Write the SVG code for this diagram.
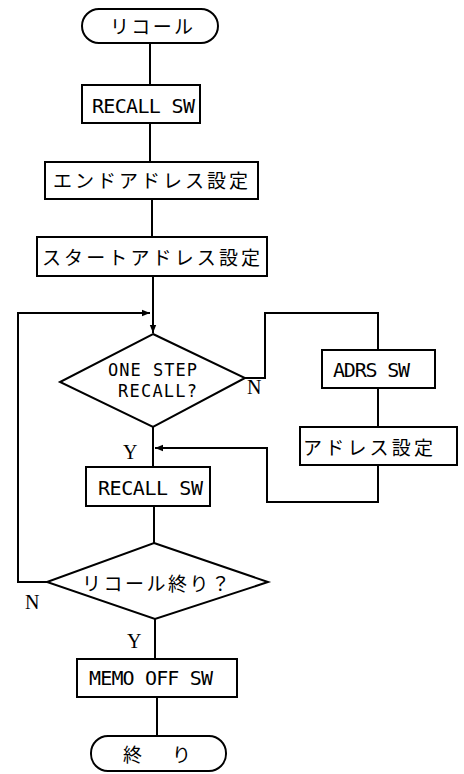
<svg xmlns="http://www.w3.org/2000/svg" width="464" height="774" viewBox="0 0 464 774">
<style>
.b{fill:#fff;stroke:#000;stroke-width:2}
.c{fill:none;stroke:#000;stroke-width:2}
.en{font-family:"DejaVu Sans Mono","Liberation Mono",monospace;font-size:20px;fill:#000}
.sm{font-size:17px}
.jp{font-family:"Noto Sans CJK JP","Noto Sans CJK SC",sans-serif;font-size:19px;fill:#000}
.lb{font-family:"Liberation Serif",serif;font-size:20px;fill:#000}
</style>
<defs>
<marker id="ah" viewBox="0 0 10 10" refX="10" refY="5" markerWidth="8" markerHeight="8" markerUnits="userSpaceOnUse" orient="auto">
<path d="M0,1 L10,5 L0,9 z" fill="#000"/>
</marker>
</defs>
<rect width="464" height="774" fill="#fff"/>
<g id="connectors">
<path class="c" d="M150,43 V85"/>
<path class="c" d="M150,123 V162"/>
<path class="c" d="M152,199 V237"/>
<path class="c" d="M153,276 V333" marker-end="url(#ah)"/>
<path class="c" d="M47,582 H18 V313 H150" marker-end="url(#ah)"/>
<path class="c" d="M245,378 H265 V313 H378 V350"/>
<path class="c" d="M378,388 V427"/>
<path class="c" d="M378,465 V502 H267 V448 H155" marker-end="url(#ah)"/>
<path class="c" d="M153,427 V467"/>
<path class="c" d="M154,506 V543"/>
<path class="c" d="M155,619 V659"/>
<path class="c" d="M157,697 V736"/>
</g>
<g id="start">
<rect class="b" x="82" y="9" width="136" height="34" rx="17"/>
<text class="jp" x="110" y="34" textLength="83">リコール</text>
</g>
<g id="recall-sw-1">
<rect class="b" x="82" y="85" width="118" height="38"/>
<text class="en" x="92" y="113" textLength="103">RECALL SW</text>
</g>
<g id="end-address">
<rect class="b" x="45" y="162" width="213" height="37"/>
<text class="jp" x="53" y="188" textLength="195">エンドアドレス設定</text>
</g>
<g id="start-address">
<rect class="b" x="37" y="237" width="230" height="39"/>
<text class="jp" x="42" y="265" textLength="218">スタートアドレス設定</text>
</g>
<g id="one-step">
<polygon class="b" points="153,334 245,378 153,427 60,382"/>
<text class="en sm" x="108" y="376" textLength="89">ONE STEP</text>
<text class="en sm" x="118" y="397" textLength="79">RECALL?</text>
<text class="lb" x="247" y="394">N</text>
<text class="lb" x="123" y="459">Y</text>
</g>
<g id="adrs-sw">
<rect class="b" x="322" y="350" width="113" height="38"/>
<text class="en" x="333" y="377" textLength="77">ADRS SW</text>
</g>
<g id="address-set">
<rect class="b" x="300" y="427" width="157" height="38"/>
<text class="jp" x="303" y="455" textLength="130">アドレス設定</text>
</g>
<g id="recall-sw-2">
<rect class="b" x="86" y="467" width="124" height="39"/>
<text class="en" x="98" y="495" textLength="105">RECALL SW</text>
</g>
<g id="recall-end">
<polygon class="b" points="154,543 268,582 155,619 47,582"/>
<text class="jp" x="82" y="591" textLength="148">リコール終り？</text>
<text class="lb" x="25" y="609">N</text>
<text class="lb" x="127" y="648">Y</text>
</g>
<g id="memo-off">
<rect class="b" x="77" y="659" width="160" height="38"/>
<text class="en" x="89" y="685" textLength="124">MEMO OFF SW</text>
</g>
<g id="end">
<rect class="b" x="91" y="736" width="135" height="35" rx="17"/>
<text class="jp" x="123" y="762">終</text>
<text class="jp" x="172" y="762">り</text>
</g>
</svg>
